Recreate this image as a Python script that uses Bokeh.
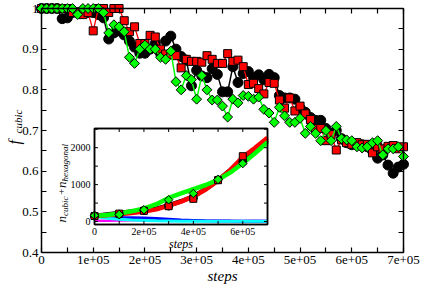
import math
from bokeh.plotting import figure
from bokeh.models import Range1d, LinearAxis, FixedTicker, Label
from bokeh.embed import file_html
from bokeh.resources import INLINE
from bokeh.core.properties import value

# ---------------- data ----------------
STEPS = [i * 1e4 for i in range(71)]

F_BLACK = [1.0, 1.0, 1.0, 1.0, 0.975, 0.977, 0.99, 0.99, 0.995, 0.99,
           0.99, 0.985, 0.977, 0.925, 0.94, 0.945, 0.935, 0.92, 0.905, 0.89,
           0.89, 0.90, 0.914, 0.89, 0.92, 0.932, 0.90, 0.882, 0.873, 0.81,
           0.848, 0.834, 0.83, 0.852, 0.838, 0.795, 0.795, 0.857, 0.818, 0.84,
           0.845, 0.83, 0.837, 0.825, 0.838, 0.83, 0.786, 0.78, 0.78, 0.777,
           0.755, 0.745, 0.732, 0.725, 0.725, 0.705, 0.693, 0.70, 0.68, 0.67,
           0.665, 0.668, 0.665, 0.66, 0.65, 0.632, 0.64, 0.615, 0.595, 0.61,
           0.617]
F_RED = [1.0, 1.0, 1.0, 1.0, 1.0, 1.0, 0.99, 0.99, 0.985, 0.99,
         0.945, 1.0, 1.0, 0.99, 1.0, 1.0, 0.97, 0.943, 0.955, 0.914,
         0.914, 0.934, 0.93, 0.90, 0.888, 0.887, 0.884, 0.854, 0.875, 0.87,
         0.87, 0.868, 0.884, 0.875, 0.865, 0.865, 0.889, 0.87, 0.873, 0.857,
         0.813, 0.816, 0.803, 0.79, 0.818, 0.816, 0.775, 0.755, 0.78, 0.748,
         0.76, 0.741, 0.727, 0.705, 0.705, 0.675, 0.69, 0.652, 0.677, 0.67,
         0.666, 0.67, 0.665, 0.666, 0.645, 0.66, 0.655, 0.661, 0.663, 0.655,
         0.66]
F_GREEN = [1.0, 1.0, 1.0, 1.0, 1.0, 1.0, 1.0, 0.985, 1.0, 1.0,
           1.0, 1.0, 0.99, 0.94, 0.96, 0.955, 0.943, 0.88, 0.865, 0.90,
           0.91, 0.90, 0.90, 0.88, 0.875, 0.895, 0.82, 0.80, 0.835, 0.825,
           0.777, 0.835, 0.80, 0.775, 0.775, 0.76, 0.733, 0.777, 0.768, 0.786,
           0.784, 0.777, 0.782, 0.752, 0.743, 0.72, 0.757, 0.736, 0.72, 0.72,
           0.73, 0.693, 0.71, 0.693, 0.675, 0.70, 0.675, 0.71, 0.68, 0.677,
           0.675, 0.66, 0.657, 0.66, 0.67, 0.675, 0.64, 0.655, 0.655, 0.66,
           0.636]

X_TICKS = [0, 1e5, 2e5, 3e5, 4e5, 5e5, 6e5, 7e5]
X_MINOR = [5e4, 1.5e5, 2.5e5, 3.5e5, 4.5e5, 5.5e5, 6.5e5]
X_TICK_LABELS = ["0", "1e+05", "2e+05", "3e+05", "4e+05", "5e+05", "6e+05", "7e+05"]
Y_TICKS = [0.4, 0.5, 0.6, 0.7, 0.8, 0.9, 1.0]
Y_MINOR = [0.45, 0.55, 0.65, 0.75, 0.85, 0.95]
Y_TICK_LABELS = ["0.4", "0.5", "0.6", "0.7", "0.8", "0.9", "1"]

# inset data
IN_X = [i * 5e4 for i in range(15)]
N_BLACK = [150, 190, 230, 270, 300, 350, 440, 550, 680, 880, 1120, 1400, 1700, 1950, 2200]
N_RED = [150, 170, 200, 230, 270, 330, 430, 540, 680, 870, 1110, 1400, 1750, 2000, 2270]
N_GREEN = [150, 180, 220, 280, 350, 470, 640, 760, 880, 990, 1130, 1330, 1580, 1850, 2150]
N_BLUE = [150, 120, 100, 100, 95, 80, 60, 40, 30, 20, 15, 12, 10, 8, 5]
N_CYAN = [140, 90, 60, 40, 30, 20, 15, 10, 8, 6, 5, 5, 5, 5, 5]
N_MAGENTA = [20, 20, 25, 35, 40, 35, 30, 25, 25, 20, 20, 20, 15, 20, 15]

IM_X = [0, 1e5, 2e5, 3e5, 4e5, 5e5, 6e5]
M_BLACK = [150, 200, 300, 420, 640, 1130, 1620]
M_RED = [150, 215, 290, 415, 615, 1120, 1770]
M_GREEN = [167, 190, 320, 590, 760, 1140, 1570]

IX_TICKS = [0, 2e5, 4e5, 6e5]
IX_MINOR = [1e5, 3e5, 5e5]
IX_TICK_LABELS = ["0", "2e+05", "4e+05", "6e+05"]
IY_TICKS = [0, 1000, 2000]
IY_MINOR = [500, 1500, 2500]
IY_TICK_LABELS = ["0", "1000", "2000"]

# ---------------- layout (canvas pixels) ----------------
FONT = "Liberation Serif"
GREEN = "#00ff00"
W, H = 420, 284
X0, X1 = 0, 7e5
Y0, Y1 = 0.4, 1.0
PX_L, PX_R, PX_T, PX_B = 41, 403, 8, 252       # main axes box
IX0, IX1 = 0, 7e5
IY0, IY1 = -80, 2520
IN_L, IN_R, IN_T, IN_B = 94, 267, 128, 224     # inset box


def px_x(px):
    return X0 + (px - PX_L) / (PX_R - PX_L) * (X1 - X0)


def px_y(py):
    return Y1 - (py - PX_T) / (PX_B - PX_T) * (Y1 - Y0)


def px_ix(px):
    return IX0 + (px - IN_L) / (IN_R - IN_L) * (IX1 - IX0)


def px_iy(py):
    return IY1 - (py - IN_T) / (IN_B - IN_T) * (IY1 - IY0)


UX = (IX1 - IX0) / (IN_R - IN_L)
UY = (IY1 - IY0) / (IN_B - IN_T)

# the frame fills the whole canvas; the axes are drawn at fixed locations
p = figure(width=W, height=H, output_backend="svg", toolbar_location=None,
           x_range=Range1d(px_x(0), px_x(W)),
           y_range=Range1d(px_y(H), px_y(0)),
           x_axis_type=None, y_axis_type=None,
           min_border_left=0, min_border_right=0,
           min_border_top=0, min_border_bottom=0)
p.extra_x_ranges = {"ix": Range1d(px_ix(0), px_ix(W))}
p.extra_y_ranges = {"iy": Range1d(px_iy(H), px_iy(0))}
p.grid.visible = False
p.background_fill_color = "white"
p.border_fill_color = "white"
p.outline_line_color = None


def make_axis(ticks, minor, labels, show, loc, bounds):
    if show:
        ax = LinearAxis(ticker=FixedTicker(ticks=ticks, minor_ticks=minor))
        ax.major_label_overrides = {t: l for t, l in zip(ticks, labels)}
        ax.major_label_text_font = FONT
        ax.major_label_text_font_size = "13px"
        ax.major_label_text_color = "black"
        ax.major_label_standoff = 3
    else:
        ax = LinearAxis(ticker=FixedTicker(ticks=[], minor_ticks=sorted(ticks + minor)))
    ax.fixed_location = loc
    ax.bounds = bounds
    ax.axis_line_color = "black"
    ax.axis_line_width = 1.5
    ax.major_tick_in = 5
    ax.major_tick_out = 0
    ax.minor_tick_in = 5
    ax.minor_tick_out = 0
    ax.major_tick_line_width = 1.2
    ax.minor_tick_line_width = 1.2
    return ax


p.add_layout(make_axis(X_TICKS, X_MINOR, X_TICK_LABELS, True, Y0, (X0, X1)), "below")
p.add_layout(make_axis(Y_TICKS, Y_MINOR, Y_TICK_LABELS, True, X0, (Y0, Y1)), "left")
p.add_layout(make_axis(X_TICKS, X_MINOR, X_TICK_LABELS, False, Y1, (X0, X1)), "above")
p.add_layout(make_axis(Y_TICKS, Y_MINOR, Y_TICK_LABELS, False, X1, (Y0, Y1)), "right")

# main series
p.line(STEPS, F_BLACK, line_color="black", line_width=1.5)
p.scatter(STEPS, F_BLACK, marker="circle", size=10, fill_color="black", line_color="black")
p.line(STEPS, F_RED, line_color="red", line_width=1.3)
p.scatter(STEPS, F_RED, marker="square", size=8, fill_color="red", line_color="black", line_width=1)
p.line(STEPS, F_GREEN, line_color=GREEN, line_width=1.5)
p.scatter(STEPS, F_GREEN, marker="square", angle=math.pi / 4, size=7,
          fill_color=GREEN, line_color="black", line_width=1)

# inset
R = dict(x_range_name="ix", y_range_name="iy")
p.quad(left=[IX0], right=[IX1], bottom=[IY0], top=[IY1], fill_color="white",
       line_color="black", line_width=1.5, **R)
p.line(IN_X, N_MAGENTA, line_color="magenta", line_width=2.5, **R)
p.line(IN_X, N_BLUE, line_color="blue", line_width=3, **R)
p.line(IN_X, N_CYAN, line_color="cyan", line_width=3, **R)
p.line(IN_X, N_BLACK, line_color="black", line_width=4.5, **R)
p.line(IN_X, N_RED, line_color="red", line_width=4.5, **R)
p.line(IN_X, N_GREEN, line_color=GREEN, line_width=4.5, **R)
p.scatter(IM_X, M_BLACK, marker="circle", size=8, fill_color="black", line_color="black", **R)
p.scatter(IM_X, M_RED, marker="square", size=7, fill_color="red", line_color="black", line_width=1, **R)
p.scatter(IM_X, M_GREEN, marker="square", angle=math.pi / 4, size=6, fill_color=GREEN,
          line_color="black", line_width=1, **R)

TL = 3.5
xt = IX_TICKS + IX_MINOR
yt = IY_TICKS + IY_MINOR
p.segment(x0=xt, y0=[IY0] * len(xt), x1=xt, y1=[IY0 + TL * UY] * len(xt), line_color="black", line_width=1, **R)
p.segment(x0=xt, y0=[IY1] * len(xt), x1=xt, y1=[IY1 - TL * UY] * len(xt), line_color="black", line_width=1, **R)
p.segment(x0=[IX0] * len(yt), y0=yt, x1=[IX0 + TL * UX] * len(yt), y1=yt, line_color="black", line_width=1, **R)
p.segment(x0=[IX1] * len(yt), y0=yt, x1=[IX1 - TL * UX] * len(yt), y1=yt, line_color="black", line_width=1, **R)
p.quad(left=[IX0], right=[IX1], bottom=[IY0], top=[IY1], fill_color=None,
       line_color="black", line_width=1.5, **R)

p.text(x=IX_TICKS, y=[IY0 - 3 * UY] * len(IX_TICKS), text=IX_TICK_LABELS,
       text_font=value(FONT), text_font_size=value("10px"), text_align="center",
       text_baseline="top", text_color="black", **R)
p.text(x=[IX0 - 4 * UX] * len(IY_TICKS), y=IY_TICKS, text=IY_TICK_LABELS,
       text_font=value(FONT), text_font_size=value("10px"), text_align="right",
       text_baseline="middle", text_color="black", **R)


def lab(text, px, py, size, angle=0.0, align="left", style="italic"):
    p.add_layout(Label(x=px_x(px), y=px_y(py), text=text, angle=angle,
                       text_font=FONT, text_font_size=f"{size}px", text_font_style=style,
                       text_align=align, text_baseline="alphabetic", text_color="black"))


A = math.pi / 2
# main axis titles
lab("steps", (PX_L + PX_R) / 2, 275, 15, align="center")
lab("f", 13.5, 144, 16, angle=A)
lab("cubic", 17.5, 133, 11, angle=A)
# inset axis titles
lab("steps", (IN_L + IN_R) / 2, 243.5, 12, align="center")
y = 222
lab("n", 61, y, 13, angle=A); y -= 0.5 * 13
lab("cubic", 64.5, y, 9, angle=A); y -= 2.17 * 9 + 1
lab("+", 61, y, 11, angle=A); y -= 0.68 * 11
lab("n", 61, y, 13, angle=A); y -= 0.5 * 13
lab("hexagonal", 64.5, y, 9, angle=A)

open("out.html", "w").write(file_html(p, INLINE))
